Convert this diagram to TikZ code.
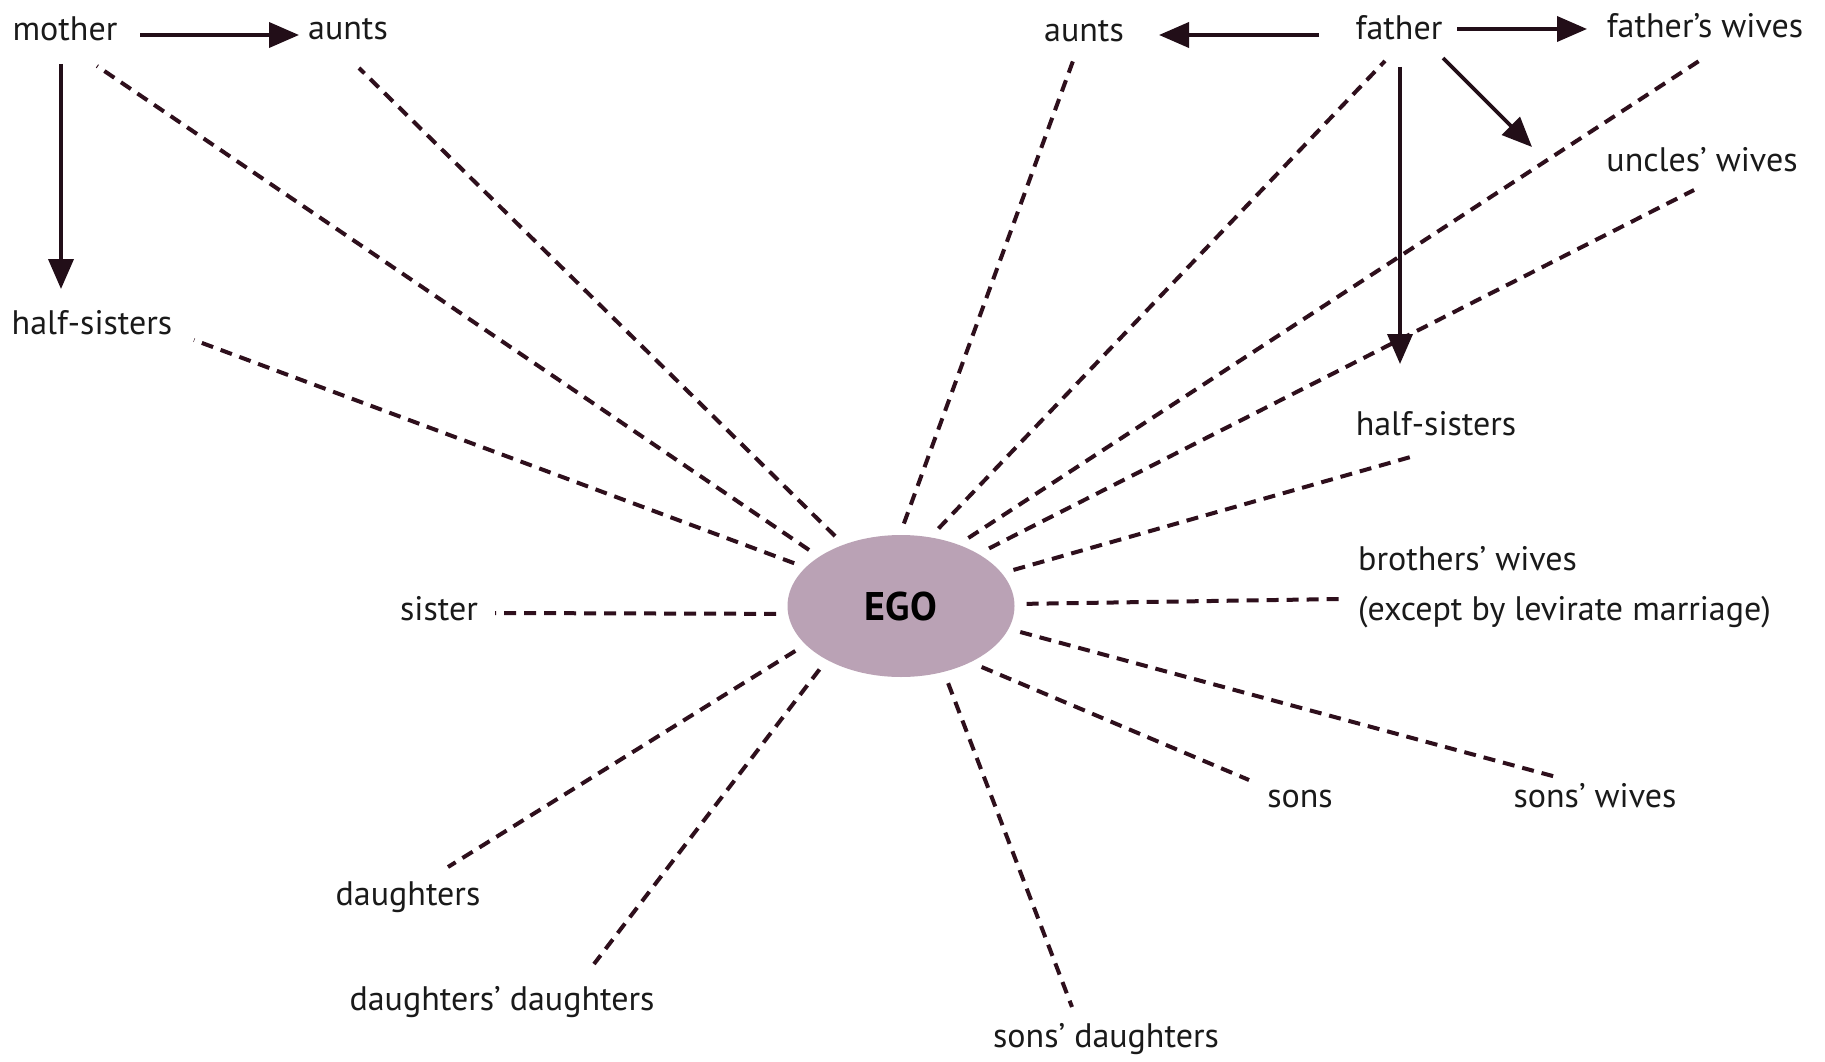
\documentclass[tikz,border=0pt]{standalone}
\usepackage{fontspec}
\setmainfont{PT Sans}
\usetikzlibrary{arrows.meta,shapes.geometric}
\definecolor{linecol}{HTML}{2E0F1C}
\definecolor{arrcol}{HTML}{220E18}
\definecolor{egofill}{HTML}{BAA2B5}
\definecolor{txt}{HTML}{1A1A1A}
\tikzset{
  lbl/.style={inner sep=0pt, text=txt, font=\fontsize{34}{40}\selectfont},
  kin/.style={draw=linecol, line width=4pt, dash pattern=on 12pt off 8pt, shorten <=12pt},
  arr/.style={draw=arrcol, line width=3.8pt, -{Triangle[length=30pt,width=25pt]}},
}
\begin{document}
\begin{tikzpicture}[x=1pt,y=-1pt]
\useasboundingbox (0,0) rectangle (1825,1062);
\fill[white] (0,0) rectangle (1825,1062);
% labels
\node[lbl] (mother) at (65,29) {mother};
\node[lbl] (auntsL) at (348,29) {aunts};
\node[lbl] (hsL) at (92,323) {half-sisters};
\node[lbl] (auntsR) at (1084,31) {aunts};
\node[lbl] (father) at (1399,28) {father};
\node[lbl] (fwives) at (1705,26) {father’s wives};
\node[lbl] (uwives) at (1702,160) {uncles’ wives};
\node[lbl] (hsR) at (1436,424) {half-sisters};
\node[lbl, anchor=west] (bwives) at (1358,559) {brothers’ wives};
\node[lbl, anchor=west] (levir) at (1358,612) {(except by levirate marriage)};
\node[lbl] (sister) at (439,609) {sister};
\node[lbl] (daughters) at (408,897) {daughters};
\node[lbl] (dd) at (502,1002) {daughters’ daughters};
\node[lbl] (sd) at (1106,1039) {sons’ daughters};
\node[lbl] (sons) at (1300,799) {sons};
\node[lbl] (swives) at (1595,796) {sons’ wives};
% ego
\node[ellipse, fill=egofill, minimum width=227pt, minimum height=142pt, inner sep=0pt,
      font=\bfseries\fontsize{40}{46}\selectfont, text=black] (ego) at (901,606) {EGO};
% free ends of kin lines
\coordinate (e1) at (97,66);
\coordinate (e2) at (359,68);
\coordinate (e3) at (194,340);
\coordinate (e4) at (495,613);
\coordinate (e5) at (448,867);
\coordinate (e6) at (594,964);
\coordinate (e7) at (1072,1007);
\coordinate (e8) at (1249,780);
\coordinate (e9) at (1560,778);
\coordinate (e10) at (1341,599);
\coordinate (e11) at (1414,456);
\coordinate (e12) at (1694,190);
\coordinate (e13) at (1699,61);
\coordinate (e14) at (1385,61);
\coordinate (e15) at (1073,61);
\foreach \i/\a in {1/149,2/133,3/158.6,4/184.8,5/202.1,6/216.7,7/303.2,8/321.6,
                   9/348.4,10/1.9,11/18.4,12/34,13/47.5,14/67,15/91.3}
  {\draw[kin] (ego.\a) -- (e\i);}
% arrow ends
\coordinate (m1) at (140,35);  \coordinate (m2) at (299,35);
\coordinate (m3) at (61,64);   \coordinate (m4) at (61,289);
\coordinate (f1) at (1319,35); \coordinate (f2) at (1159,35);
\coordinate (f3) at (1457,29); \coordinate (f4) at (1587,29);
\coordinate (f5) at (1443,58); \coordinate (f6) at (1532,147);
\coordinate (f7) at (1400,67); \coordinate (f8) at (1400,364);
\draw[arr] (m1) -- (m2);
\draw[arr] (m3) -- (m4);
\draw[arr] (f1) -- (f2);
\draw[arr] (f3) -- (f4);
\draw[arr] (f5) -- (f6);
\draw[arr] (f7) -- (f8);
\end{tikzpicture}
\end{document}
